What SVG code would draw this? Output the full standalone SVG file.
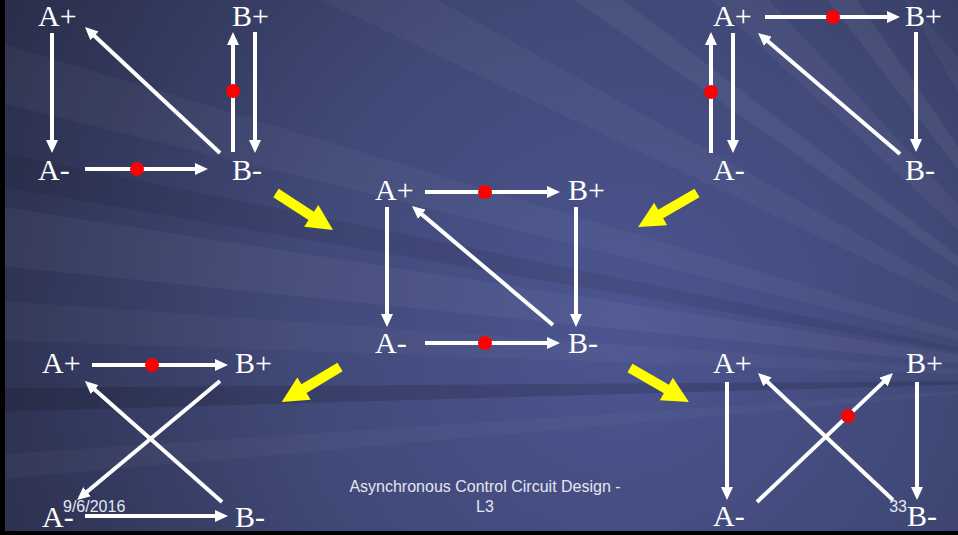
<svg xmlns="http://www.w3.org/2000/svg" width="958" height="535" viewBox="0 0 958 535">
<defs>
<radialGradient id="bg" cx="620" cy="330" r="720" gradientUnits="userSpaceOnUse">
<stop offset="0" stop-color="#4c5590"/>
<stop offset="0.45" stop-color="#414978"/>
<stop offset="1" stop-color="#282c47"/>
</radialGradient>
<marker id="ah" markerUnits="userSpaceOnUse" markerWidth="13" markerHeight="12" viewBox="0 0 13 12" refX="2" refY="6" orient="auto">
<path d="M0,0 L13,6 L0,12 Z" fill="#ffffff"/>
</marker>
<path id="yarrow" d="M0,-5 H42 V-13 L68,0 L42,13 V5 H0 Z"/>
</defs>
<style>
.lbl{font-family:"Liberation Serif","Times New Roman",serif;font-size:30px;fill:#ffffff}
.ft{font-family:"Liberation Sans",Arial,sans-serif;font-size:16px;fill:#e4e6f0}
.cn{stroke:#ffffff;stroke-width:4;fill:none;marker-end:url(#ah)}
.tok{fill:#ff0000}
.ya{fill:#ffff00}
.lt{fill:#ffffff}
.dk{fill:#000000}
</style>
<rect width="958" height="535" fill="url(#bg)"/>
<g id="streaks">
<polygon class="lt" opacity="0.035" points="1120,380 300,-10 420,-10"/>
<polygon class="lt" opacity="0.05" points="1120,380 560,-10 610,-10"/>
<polygon class="lt" opacity="0.045" points="1120,380 700,-10 760,-10"/>
<polygon class="lt" opacity="0.055" points="1120,380 820,-10 850,-10"/>
<polygon class="lt" opacity="0.04" points="1120,380 900,-10 960,60"/>
<polygon class="lt" opacity="0.035" points="1120,380 -10,40 -10,100"/>
<polygon class="dk" opacity="0.08" points="1120,380 -10,150 -10,185"/>
<polygon class="lt" opacity="0.045" points="1120,380 -10,205 -10,265"/>
<polygon class="lt" opacity="0.03" points="1120,380 -10,300 -10,340"/>
<polygon class="dk" opacity="0.14" points="1120,380 -10,388 -10,412"/>
<polygon class="lt" opacity="0.03" points="1120,380 -10,455 -10,480"/>
</g>
<rect x="0" y="0" width="5" height="535" fill="#000"/>
<rect x="0" y="531" width="958" height="4" fill="#000"/>
<g id="transition-arrows">
<use href="#yarrow" class="ya" transform="translate(276,193) rotate(33)"/>
<use href="#yarrow" class="ya" transform="translate(697,193) rotate(150)"/>
<use href="#yarrow" class="ya" transform="translate(340,367) rotate(149)"/>
<use href="#yarrow" class="ya" transform="translate(630,368) rotate(30)"/>
</g>
<g id="connectors">
<line class="cn" x1="52" y1="33" x2="52" y2="142"/>
<line class="cn" x1="220" y1="153" x2="93" y2="34.5"/>
<line class="cn" x1="233" y1="152" x2="233" y2="43"/>
<line class="cn" x1="255" y1="32" x2="255" y2="142"/>
<line class="cn" x1="85" y1="169" x2="197" y2="169"/>
<line class="cn" x1="765" y1="17" x2="889" y2="17"/>
<line class="cn" x1="711" y1="153" x2="711" y2="43"/>
<line class="cn" x1="733" y1="33" x2="733" y2="142"/>
<line class="cn" x1="916" y1="32" x2="916" y2="141"/>
<line class="cn" x1="900" y1="154" x2="766.4" y2="40.1"/>
<line class="cn" x1="425" y1="192" x2="549" y2="192"/>
<line class="cn" x1="387" y1="207" x2="387" y2="316"/>
<line class="cn" x1="576" y1="207" x2="576" y2="316"/>
<line class="cn" x1="553" y1="325" x2="420.4" y2="213.1"/>
<line class="cn" x1="425" y1="343" x2="549" y2="343"/>
<line class="cn" x1="92" y1="365" x2="217" y2="365"/>
<line class="cn" x1="220" y1="381" x2="85.5" y2="493"/>
<line class="cn" x1="222" y1="502" x2="93.2" y2="388.3"/>
<line class="cn" x1="85" y1="516" x2="217" y2="516"/>
<line class="cn" x1="727" y1="382" x2="727" y2="489"/>
<line class="cn" x1="917" y1="382" x2="917" y2="489"/>
<line class="cn" x1="757" y1="502" x2="885" y2="380.6"/>
<line class="cn" x1="893" y1="500" x2="766" y2="380.5"/>
<circle class="tok" cx="233" cy="91" r="7"/>
<circle class="tok" cx="137" cy="169" r="7"/>
<circle class="tok" cx="833" cy="17" r="7"/>
<circle class="tok" cx="711" cy="92" r="7"/>
<circle class="tok" cx="485" cy="192" r="7"/>
<circle class="tok" cx="485" cy="343" r="7"/>
<circle class="tok" cx="152" cy="365" r="7"/>
<circle class="tok" cx="848" cy="416" r="7"/>
</g>
<g id="tl-Aplus"><text class="lbl" x="38" y="26">A+</text></g>
<g id="tl-Bplus"><text class="lbl" x="232" y="26">B+</text></g>
<g id="tl-Aminus"><text class="lbl" x="38" y="180">A-</text></g>
<g id="tl-Bminus"><text class="lbl" x="232" y="180">B-</text></g>
<g id="tr-Aplus"><text class="lbl" x="713" y="26">A+</text></g>
<g id="tr-Bplus"><text class="lbl" x="905" y="26">B+</text></g>
<g id="tr-Aminus"><text class="lbl" x="713" y="180">A-</text></g>
<g id="tr-Bminus"><text class="lbl" x="905" y="180">B-</text></g>
<g id="c-Aplus"><text class="lbl" x="375" y="200">A+</text></g>
<g id="c-Bplus"><text class="lbl" x="568" y="200">B+</text></g>
<g id="c-Aminus"><text class="lbl" x="375" y="353">A-</text></g>
<g id="c-Bminus"><text class="lbl" x="568" y="353">B-</text></g>
<g id="bl-Aplus"><text class="lbl" x="42" y="373">A+</text></g>
<g id="bl-Bplus"><text class="lbl" x="235" y="373">B+</text></g>
<g id="bl-Aminus"><text class="lbl" x="42" y="527">A-</text></g>
<g id="bl-Bminus"><text class="lbl" x="235" y="527">B-</text></g>
<g id="br-Aplus"><text class="lbl" x="713" y="373">A+</text></g>
<g id="br-Bplus"><text class="lbl" x="906" y="373">B+</text></g>
<g id="br-Aminus"><text class="lbl" x="713" y="526">A-</text></g>
<g id="br-Bminus"><text class="lbl" x="907" y="526">B-</text></g>
<g id="footer">
<text class="ft" x="63" y="512">9/6/2016</text>
<text class="ft" x="485" y="492" text-anchor="middle">Asynchronous Control Circuit Design -</text>
<text class="ft" x="485" y="512" text-anchor="middle">L3</text>
<text class="ft" x="907" y="512" text-anchor="end">33</text>
</g>
</svg>
